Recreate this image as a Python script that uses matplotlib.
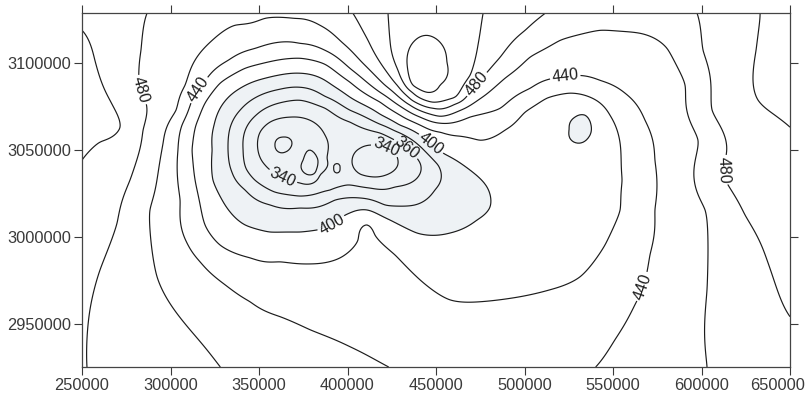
import numpy as np
import matplotlib
matplotlib.use("Agg")
import matplotlib.pyplot as plt
import matplotlib.transforms as mtransforms

plt.rcParams['font.family'] = ['Liberation Sans', 'DejaVu Sans']

iso_520 = [(433.6, 3100.6), (438.1, 3113.2), (444.9, 3116.1), (452.3, 3112.1),
           (456.2, 3100.6), (452.3, 3087.4), (444.9, 3083.3), (437.0, 3087.4)]
iso_500_u = [(422.9, 3128.8), (424.0, 3113.2), (428.5, 3096.0), (436.5, 3083.3),
             (448.3, 3077.6), (460.7, 3080.5), (469.2, 3093.1), (473.7, 3110.4),
             (476.6, 3128.8)]
iso_500_w = [(250.0, 3119.0), (257.3, 3101.7), (265.8, 3078.7), (271.5, 3063.2),
             (260.2, 3054.6), (250.0, 3044.2)]
iso_500_e = [(633.1, 3128.8), (630.8, 3107.5), (629.1, 3090.2), (632.0, 3078.7),
             (641.5, 3070.1), (650.0, 3063.2)]
iso_480_w = [(286.7, 3128.8), (283.3, 3107.5), (282.8, 3084.5), (284.5, 3061.5),
             (277.1, 3032.7), (269.8, 3008.0), (260.2, 2981.0), (254.5, 2958.0),
             (252.8, 2925.2)]
iso_480_n = [(403.1, 3128.8), (411.6, 3113.2), (419.5, 3098.9), (428.5, 3086.8),
             (436.5, 3078.7), (448.3, 3074.1), (460.7, 3076.4), (469.2, 3083.3),
             (474.9, 3090.2), (486.2, 3103.5), (500.3, 3119.0), (511.6, 3128.8)]
iso_480_e = [(597.5, 3128.8), (600.9, 3107.5), (606.0, 3073.0), (612.2, 3036.8),
             (624.6, 3012.6), (637.0, 2986.7), (650.0, 2954.0)]
iso_460 = [(328.0, 2925.2), (311.0, 2946.5), (292.4, 2977.0), (288.4, 3015.5),
           (295.8, 3054.0), (303.1, 3073.0), (308.2, 3087.4), (313.8, 3101.7),
           (323.5, 3113.2), (336.4, 3121.9), (353.4, 3125.9), (370.3, 3125.9),
           (384.5, 3121.9), (396.9, 3112.1), (408.2, 3100.6), (421.2, 3087.4),
           (435.3, 3075.9), (452.3, 3069.5), (466.4, 3074.1), (477.7, 3081.6),
           (489.0, 3091.4), (503.1, 3103.5), (520.1, 3113.2), (542.7, 3119.0),
           (565.3, 3117.3), (580.5, 3108.6), (590.7, 3087.4), (598.0, 3055.7),
           (602.0, 3015.5), (603.1, 2969.5), (603.1, 2925.2)]
iso_440 = [(422.9, 2925.2), (401.4, 2936.7), (378.8, 2946.5), (361.9, 2954.0),
           (344.9, 2962.6), (330.8, 2972.4), (316.7, 2985.6), (309.3, 2996.5),
           (305.4, 3021.2), (304.2, 3050.0), (306.5, 3064.4), (312.2, 3078.7),
           (320.6, 3091.4), (332.5, 3101.7), (347.7, 3108.6), (373.2, 3111.5),
           (387.3, 3107.5), (401.4, 3097.1), (418.4, 3083.3), (429.7, 3075.3),
           (441.0, 3069.0), (452.3, 3065.5), (469.2, 3069.0), (486.2, 3074.1),
           (503.1, 3085.6), (516.1, 3091.4), (528.5, 3093.1), (542.7, 3090.2),
           (556.8, 3082.8), (568.1, 3067.2), (573.7, 3044.2), (573.7, 3015.5),
           (570.9, 2989.6), (567.0, 2971.2), (562.4, 2960.9), (551.1, 2940.7),
           (540.4, 2925.2)]
iso_420 = [(312.2, 3050.0), (314.4, 3064.4), (319.5, 3077.0), (328.0, 3088.5),
           (342.1, 3097.1), (373.2, 3102.9), (387.3, 3099.4), (401.4, 3089.1),
           (418.4, 3077.6), (429.7, 3070.1), (441.0, 3064.4), (452.3, 3060.3),
           (463.6, 3058.0), (474.9, 3055.7), (489.0, 3061.5), (500.3, 3071.8),
           (512.7, 3079.9), (525.7, 3082.8), (537.0, 3080.5), (548.3, 3070.1),
           (554.0, 3054.0), (555.1, 3032.7), (554.0, 3015.5), (545.5, 2995.4),
           (531.4, 2977.0), (514.4, 2969.5), (497.5, 2965.5), (474.9, 2962.6),
           (457.9, 2963.7), (441.0, 2975.2), (426.8, 2989.6), (415.5, 3001.1),
           (411.0, 3006.9), (405.9, 2998.2), (395.8, 2987.9), (378.8, 2984.4),
           (361.9, 2985.6), (344.9, 2987.9), (328.0, 2995.3), (319.5, 3006.9),
           (315.0, 3027.0)]
iso_400 = [(323.5, 3050.0), (324.6, 3064.4), (329.1, 3075.9), (339.3, 3085.6),
           (353.4, 3091.4), (373.2, 3094.3), (387.3, 3090.2), (401.4, 3080.5),
           (418.4, 3070.7), (429.7, 3064.4), (439.3, 3059.8), (446.6, 3054.0),
           (454.0, 3048.3), (469.2, 3038.5), (478.8, 3028.7), (480.5, 3017.2),
           (473.2, 3009.7), (457.9, 3002.2), (439.3, 3002.2), (424.0, 3009.7),
           (411.0, 3015.5), (401.4, 3013.8), (391.3, 3006.9), (373.2, 3002.8),
           (356.2, 3002.8), (342.1, 3006.9), (330.8, 3018.4), (324.0, 3032.7)]
iso_400_s = [(525.2, 3062.0), (528.5, 3069.0), (534.2, 3070.1), (537.6, 3064.4),
             (535.9, 3056.9), (530.2, 3054.0), (525.6, 3056.9)]
iso_380 = [(332.5, 3050.0), (333.6, 3062.6), (339.3, 3073.0), (349.4, 3081.0),
           (361.9, 3085.1), (373.2, 3086.2), (387.3, 3081.0), (401.4, 3073.0),
           (418.4, 3064.9), (429.7, 3059.8), (442.1, 3051.1), (451.1, 3041.4),
           (449.4, 3027.0), (438.1, 3018.4), (421.2, 3018.4), (407.1, 3022.4),
           (393.0, 3021.2), (373.2, 3016.6), (356.2, 3018.4), (342.1, 3027.0),
           (334.7, 3037.3)]
iso_360 = [(341.0, 3050.0), (342.7, 3062.6), (348.3, 3070.1), (359.0, 3076.4),
           (373.2, 3078.7), (387.3, 3074.1), (401.4, 3066.1), (418.4, 3059.8),
           (426.8, 3055.7), (435.3, 3050.0), (441.0, 3042.5), (438.1, 3032.7),
           (426.8, 3028.7), (412.7, 3028.1), (400.3, 3029.9), (390.1, 3027.0),
           (373.2, 3023.5), (359.0, 3025.8), (347.7, 3032.7), (342.6, 3039.6)]
iso_340_w = [(349.4, 3050.0), (350.6, 3060.3), (356.2, 3066.1), (367.5, 3069.0),
             (378.8, 3067.2), (387.3, 3058.6), (388.4, 3045.4), (384.5, 3035.6),
             (373.2, 3031.0), (360.7, 3035.6), (353.4, 3041.4)]
iso_340_e = [(402.6, 3044.2), (407.1, 3051.1), (415.5, 3052.9), (425.1, 3050.0),
             (428.5, 3044.2), (425.1, 3037.3), (415.5, 3034.5), (407.1, 3036.2)]
iso_340_c = [(392.3, 3039.5), (394.0, 3042.2), (395.7, 3039.5), (394.0, 3036.8)]
iso_320_a = [(359.0, 3052.9), (363.6, 3057.5), (368.6, 3054.0), (364.7, 3048.8)]
iso_320_b = [(374.9, 3044.2), (378.8, 3050.0), (383.3, 3044.2), (381.6, 3036.8),
             (376.6, 3036.2)]

# spot values read between the lines (easting km, northing km, value)
spot_values = [
    (444.9, 3100.6, 535), (449.6, 3126.5, 510), (415.5, 3043.7, 326),
    (363.6, 3052.9, 312), (378.6, 3043.1, 312), (370.9, 3048.8, 326),
    (394.0, 3039.5, 334), (531.4, 3062.0, 395), (251.1, 3073.0, 508),
    (252.3, 3127.6, 492), (647.2, 3125.9, 508), (486.2, 2992.5, 410),
    (466.4, 3021.2, 392), (503.1, 3021.2, 412), (542.7, 3032.7, 415),
    (508.8, 3050.0, 413), (480.5, 2935.0, 432), (429.7, 2958.0, 430),
    (350.6, 2969.5, 430), (587.9, 2992.5, 450), (621.8, 2952.2, 470),
    (633.1, 2929.2, 472), (647.2, 2929.2, 474), (627.4, 3050.0, 488),
    (648.0, 3010.0, 488), (554.0, 3127.6, 466), (276.0, 2963.7, 470),
    (268.0, 3113.2, 490), (297.0, 3101.7, 470), (344.9, 3128.2, 466),
    (373.2, 3119.0, 450), (413.9, 3127.6, 490), (493.0, 3127.6, 490),
    (393.0, 3127.6, 470),
]

traced = [
    (520, iso_520), (500, iso_500_u), (500, iso_500_w), (500, iso_500_e),
    (480, iso_480_w), (480, iso_480_n), (480, iso_480_e),
    (460, iso_460), (440, iso_440), (420, iso_420),
    (400, iso_400), (400, iso_400_s), (380, iso_380), (360, iso_360),
    (340, iso_340_w), (340, iso_340_e), (340, iso_340_c),
    (320, iso_320_a), (320, iso_320_b),
]

contour_levels = list(range(320, 521, 20))

# where the values are written on the map
label_spots = [(282.8, 3084.5), (473.2, 3087.9), (612.2, 3038.5),
               (315.5, 3085.0), (522.9, 3093.1), (567.0, 2971.2),
               (446.6, 3052.9), (390.1, 3008.6), (432.5, 3050.0),
               (421.8, 3051.7), (364.7, 3037.3)]

x_ticks = [250000, 300000, 350000, 400000, 450000, 500000, 550000, 600000, 650000]
y_ticks = [2950000, 3000000, 3050000, 3100000]


def tps_surface(px, py, pz, gx, gy, smooth=1e-6):
    """Thin plate spline through the traced points."""
    u = (px - 450.0) / 100.0
    v = (py - 3030.0) / 100.0

    def kernel(d2):
        with np.errstate(divide='ignore', invalid='ignore'):
            k = 0.5 * d2 * np.log(d2)
        return np.nan_to_num(k)

    n = len(u)
    d2 = (u[:, None] - u[None, :]) ** 2 + (v[:, None] - v[None, :]) ** 2
    A = np.zeros((n + 3, n + 3))
    A[:n, :n] = kernel(d2) + smooth * np.eye(n)
    P = np.column_stack([np.ones(n), u, v])
    A[:n, n:] = P
    A[n:, :n] = P.T
    b = np.concatenate([pz, np.zeros(3)])
    coef = np.linalg.solve(A, b)
    w, a = coef[:n], coef[n:]

    gu = (gx.ravel() - 450.0) / 100.0
    gv = (gy.ravel() - 3030.0) / 100.0
    out = np.empty(gu.size)
    step = 4000
    for s in range(0, gu.size, step):
        cu = gu[s:s + step]
        cv = gv[s:s + step]
        dd = (cu[:, None] - u[None, :]) ** 2 + (cv[:, None] - v[None, :]) ** 2
        out[s:s + step] = kernel(dd) @ w + a[0] + a[1] * cu + a[2] * cv
    return out.reshape(gx.shape)


cx, cy, cz = [], [], []
for level, pts in traced:
    for x, y in pts:
        cx.append(x)
        cy.append(y)
        cz.append(level)
for x, y, z in spot_values:
    cx.append(x)
    cy.append(y)
    cz.append(z)
cx, cy, cz = np.array(cx), np.array(cy), np.array(cz, dtype=float)

gx, gy = np.meshgrid(np.linspace(250, 650, 401), np.linspace(2925, 3129, 205))
Z = tps_surface(cx, cy, cz, gx, gy)
X, Y = gx * 1000, gy * 1000

fig = plt.figure(figsize=(8.12, 4.0), dpi=100)
ax = fig.add_axes([82 / 812, 33 / 400, 708 / 812, 354 / 400])

ax.contourf(X, Y, Z, levels=[0, 400], colors=['#eef2f5'])
cs = ax.contour(X, Y, Z, levels=contour_levels, colors='#1c1c1c', linewidths=0.85)
ax.clabel(cs, manual=[(x * 1000, y * 1000) for x, y in label_spots],
          fmt='%d', fontsize=11.5, inline=True, inline_spacing=2)

ax.set_xlim(250000, 650000)
ax.set_ylim(2925000, 3129000)
ax.set_xticks(x_ticks)
ax.set_yticks(y_ticks)
ax.ticklabel_format(style='plain', useOffset=False)
ax.tick_params(direction='out', length=6, width=0.8, pad=2, top=True, right=True,
               labelsize=11.8, colors='#3a3a3a')
for sp in ax.spines.values():
    sp.set_color('#444444')
    sp.set_linewidth(0.9)

# keep the last easting label inside the picture
last = ax.get_xticklabels()[-1]
last.set_transform(last.get_transform()
                   + mtransforms.ScaledTranslation(-0.12, 0, fig.dpi_scale_trans))

fig.savefig('out.png', dpi=100)
